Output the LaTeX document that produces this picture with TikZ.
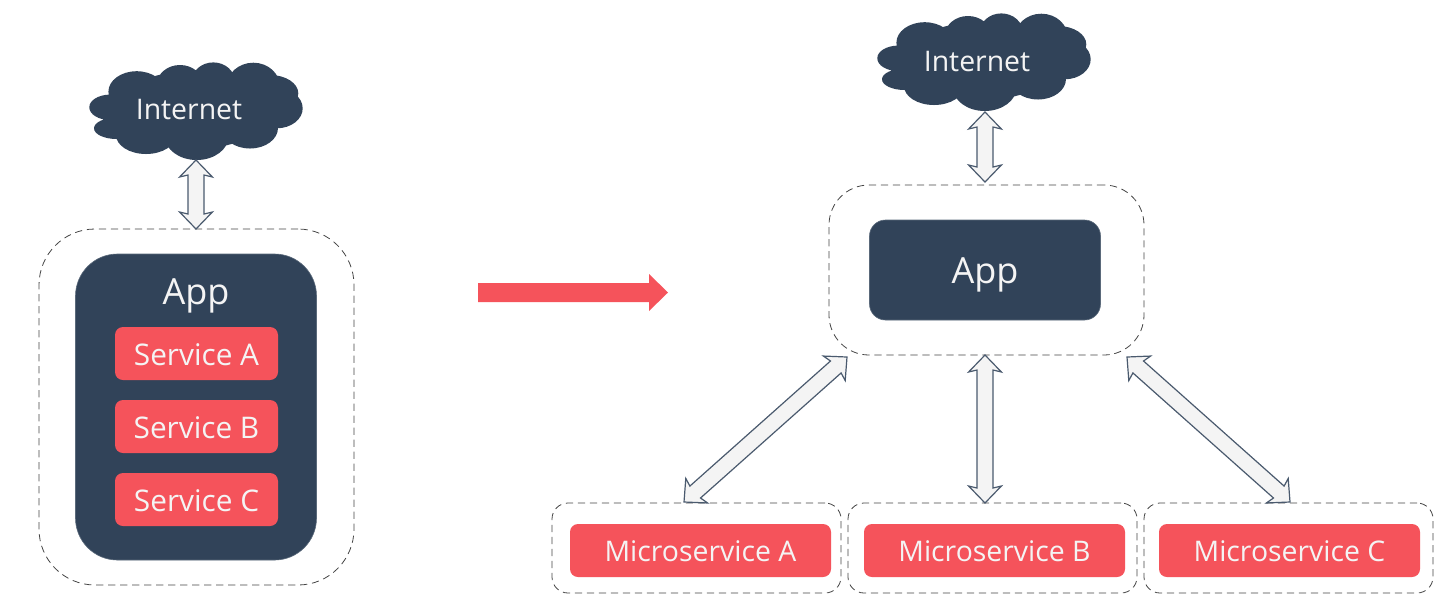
\documentclass[tikz,border=0pt]{standalone}
\usepackage{fontspec}
\setmainfont{Open Sans}
\usetikzlibrary{calc}
\definecolor{navy}{HTML}{314359}
\definecolor{coral}{HTML}{F5535B}
\definecolor{pale}{HTML}{F4F4F4}
\definecolor{edge}{HTML}{4A5A6E}
\definecolor{dashc}{HTML}{454545}
\tikzset{
  x=0.5pt,y=-0.5pt,
  every node/.style={font=\fontsize{14.9}{18}\selectfont, text=pale, inner sep=0pt, outer sep=0pt},
  groupbox/.style={draw=dashc, line width=0.4pt, dash pattern=on 3.6pt off 2.4pt, fill=white},
  corebox/.style={fill=navy, draw=navy!80!white, line width=0.3pt},
  svcbox/.style={fill=coral, rounded corners=4pt, text height=12pt, text depth=0pt},
  msbox/.style={fill=coral, rounded corners=4pt, text height=10.5pt, text depth=0pt, font=\fontsize{14.2}{17}\selectfont},
  bigtext/.style={font=\fontsize{18}{22}\selectfont},
  cloudtext/.style={font=\fontsize{14.2}{17}\selectfont},
  blockarrow/.style={fill=pale, draw=edge, line width=0.6pt, line join=miter},
  movearrow/.style={fill=coral},
  frame/.style={inner sep=0pt, draw=none, fill=none}
}
% #1 name, #2 x-centre of bbox, #3 y-centre of bbox, #4 text x, #5 text y
\newcommand{\cloudat}[5]{%
  \begin{scope}[shift={(#2-196.5,#3-111)}]
    \fill[navy]
      (80+30,50+57.3) ellipse [x radius=20.7, y radius=12.7]
      (80+36.7,50+78.3) ellipse [x radius=22.7, y radius=10.7]
      (80+56.7,50+41.7) ellipse [x radius=28.3, y radius=20.5]
      (80+100,50+35) ellipse [x radius=23.3, y radius=20]
      (80+133.3,50+31.7) ellipse [x radius=21.7, y radius=19.3]
      (80+173.3,50+36.7) ellipse [x radius=26.7, y radius=24]
      (80+190,50+43.3) ellipse [x radius=28.3, y radius=18.3]
      (80+196.7,50+58.3) ellipse [x radius=26, y radius=20]
      (80+170,50+78) ellipse [x radius=28, y radius=20.5]
      (80+116.7,50+86) ellipse [x radius=32, y radius=24]
      (80+66,50+85) ellipse [x radius=30, y radius=19]
      (80+113.3,50+60) ellipse [x radius=78, y radius=39];
  \end{scope}
  \node[frame, minimum width=106.5pt, minimum height=49pt] (#1) at (#2,#3) {};
  \node[cloudtext] (#1text) at (#4,#5) {Internet};
}
% block arrow with a head at both ends, from point #1 to point #2
\newcommand{\dblarrow}[2]{%
  \draw[blockarrow]
    (#1)
    -- ($(#1)!8.5pt!(#2)!8.2pt!90:(#2)$)
    -- ($(#1)!7.5pt!(#2)!4pt!90:(#2)$)
    -- ($(#2)!7.5pt!(#1)!4pt!-90:(#1)$)
    -- ($(#2)!8.5pt!(#1)!8.2pt!-90:(#1)$)
    -- (#2)
    -- ($(#2)!8.5pt!(#1)!8.2pt!90:(#1)$)
    -- ($(#2)!7.5pt!(#1)!4pt!90:(#1)$)
    -- ($(#1)!7.5pt!(#2)!4pt!-90:(#2)$)
    -- ($(#1)!8.5pt!(#2)!8.2pt!-90:(#2)$)
    -- cycle;
}
\begin{document}
\begin{tikzpicture}
\useasboundingbox (0,0) rectangle (1440,607);
% left group
\node[groupbox, rounded corners=28pt, minimum width=157.5pt, minimum height=178pt] (outerL) at (196.5,407) {};
\node[corebox, rounded corners=21pt, minimum width=120.5pt, minimum height=153pt] (appL) at (196,407) {};
\node[bigtext] (appLtext) at (196,296) {App};
\node[svcbox, minimum width=81.5pt, minimum height=26.5pt] (svcA) at (196.5,353.5) {Service A};
\node[svcbox, minimum width=81.5pt, minimum height=26.5pt] (svcB) at (196.5,426.5) {Service B};
\node[svcbox, minimum width=81.5pt, minimum height=26.5pt] (svcC) at (196.5,499.5) {Service C};
\cloudat{cloudL}{196.5}{111}{189}{109}
% right group
\node[groupbox, rounded corners=20pt, minimum width=157.5pt, minimum height=85pt] (outerR) at (986.5,270) {};
\node[corebox, rounded corners=8pt, minimum width=115.5pt, minimum height=50pt] (appR) at (985,270) {};
\node[bigtext] (appRtext) at (985,275) {App};
\node[groupbox, rounded corners=8pt, minimum width=144.5pt, minimum height=45pt] (outerMA) at (696.5,548) {};
\node[groupbox, rounded corners=8pt, minimum width=144.5pt, minimum height=45pt] (outerMB) at (992.5,548) {};
\node[groupbox, rounded corners=8pt, minimum width=144.5pt, minimum height=45pt] (outerMC) at (1288.5,548) {};
\node[msbox, minimum width=130.5pt, minimum height=26.5pt] (msA) at (700.5,550.5) {Microservice A};
\node[msbox, minimum width=130.5pt, minimum height=26.5pt] (msB) at (994.5,550.5) {Microservice B};
\node[msbox, minimum width=130.5pt, minimum height=26.5pt] (msC) at (1289.5,550.5) {Microservice C};
\cloudat{cloudR}{984.5}{62}{977}{61}
% connectors
\coordinate (arL) at (196,229);
\coordinate (arRtop) at (985,182);
\coordinate (arRbot) at (985,355);
\coordinate (arMB) at (985,503);
\coordinate (arDiagA1) at (847,357);
\coordinate (arDiagA2) at (684,502);
\coordinate (arDiagC1) at (1127,357);
\coordinate (arDiagC2) at (1290,502);
\coordinate (cloudLfoot) at (196,160);
\coordinate (cloudRfoot) at (985,112);
\dblarrow{cloudLfoot}{arL}
\dblarrow{cloudRfoot}{arRtop}
\dblarrow{arRbot}{arMB}
\dblarrow{arDiagA1}{arDiagA2}
\dblarrow{arDiagC1}{arDiagC2}
% transition arrow
\coordinate (moveStart) at (478,292.5);
\coordinate (moveEnd) at (668,292.5);
\fill[movearrow] (478,283) -- (649,283) -- (649,274) -- (moveEnd) -- (649,311) -- (649,302) -- (478,302) -- cycle;
\end{tikzpicture}
\end{document}
